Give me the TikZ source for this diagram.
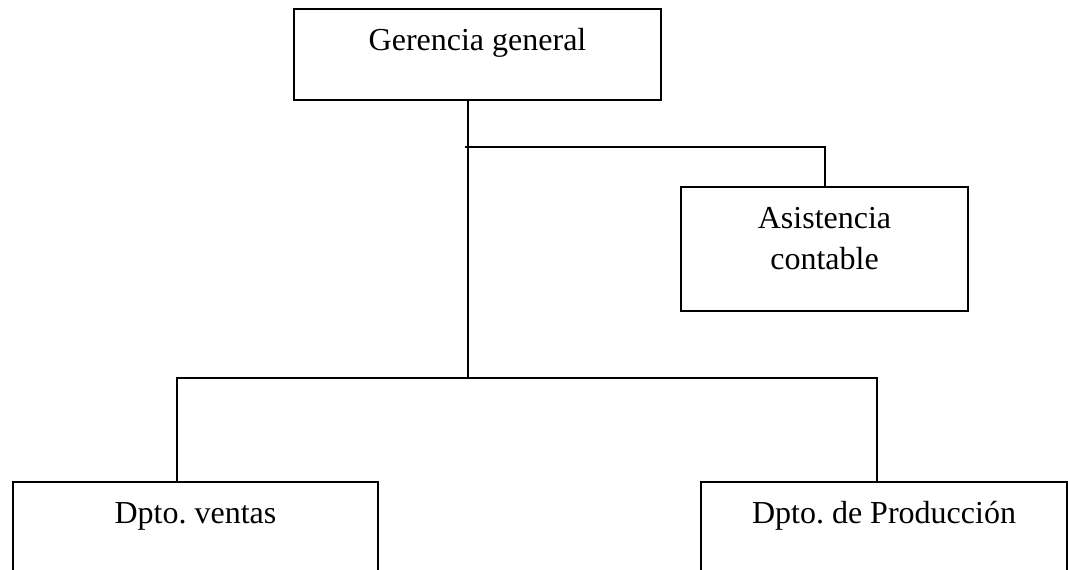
\documentclass[tikz,border=0pt]{standalone}
\usepackage{fontspec}
\setmainfont{Liberation Serif}
\usepackage{tikz}

\begin{document}
\begin{tikzpicture}[x=0.5pt, y=-0.5pt, line width=1pt,
    box/.style={draw, rectangle, inner sep=0pt, align=center,
        font=\fontsize{16}{20.5}\selectfont\frenchspacing, text height=20.5pt}]
    \useasboundingbox (0, 0) rectangle (1068, 569);
    \clip (0, 0) rectangle (1068, 569);

    \node[box, anchor=north, minimum width=183.5pt, text depth=25pt] at (477.5, 8) (ger) {Gerencia general};
    \node[box, anchor=north, minimum width=143.5pt, text height=41pt, text depth=21pt] at (824.5, 186) (asis) {Asistencia\\contable};
    \node[box, anchor=north, minimum width=182.5pt, text depth=75pt] at (195.5, 481) (ventas) {Dpto. ventas};
    \node[box, anchor=north, minimum width=183pt, text depth=75pt] at (884, 481) (prod) {Dpto. de Producción};

    \coordinate (split) at (465, 147);
    \coordinate (hub) at (468, 378);
    \coordinate (vturn) at (177, 378);
    \coordinate (pturn) at (877, 378);

    \draw (ger.south -| hub) -- (hub);
    \draw (split) -| (asis.north);
    \draw (ventas.north -| vturn) -- (vturn) -- (pturn) -- (prod.north -| pturn);
\end{tikzpicture}
\end{document}
